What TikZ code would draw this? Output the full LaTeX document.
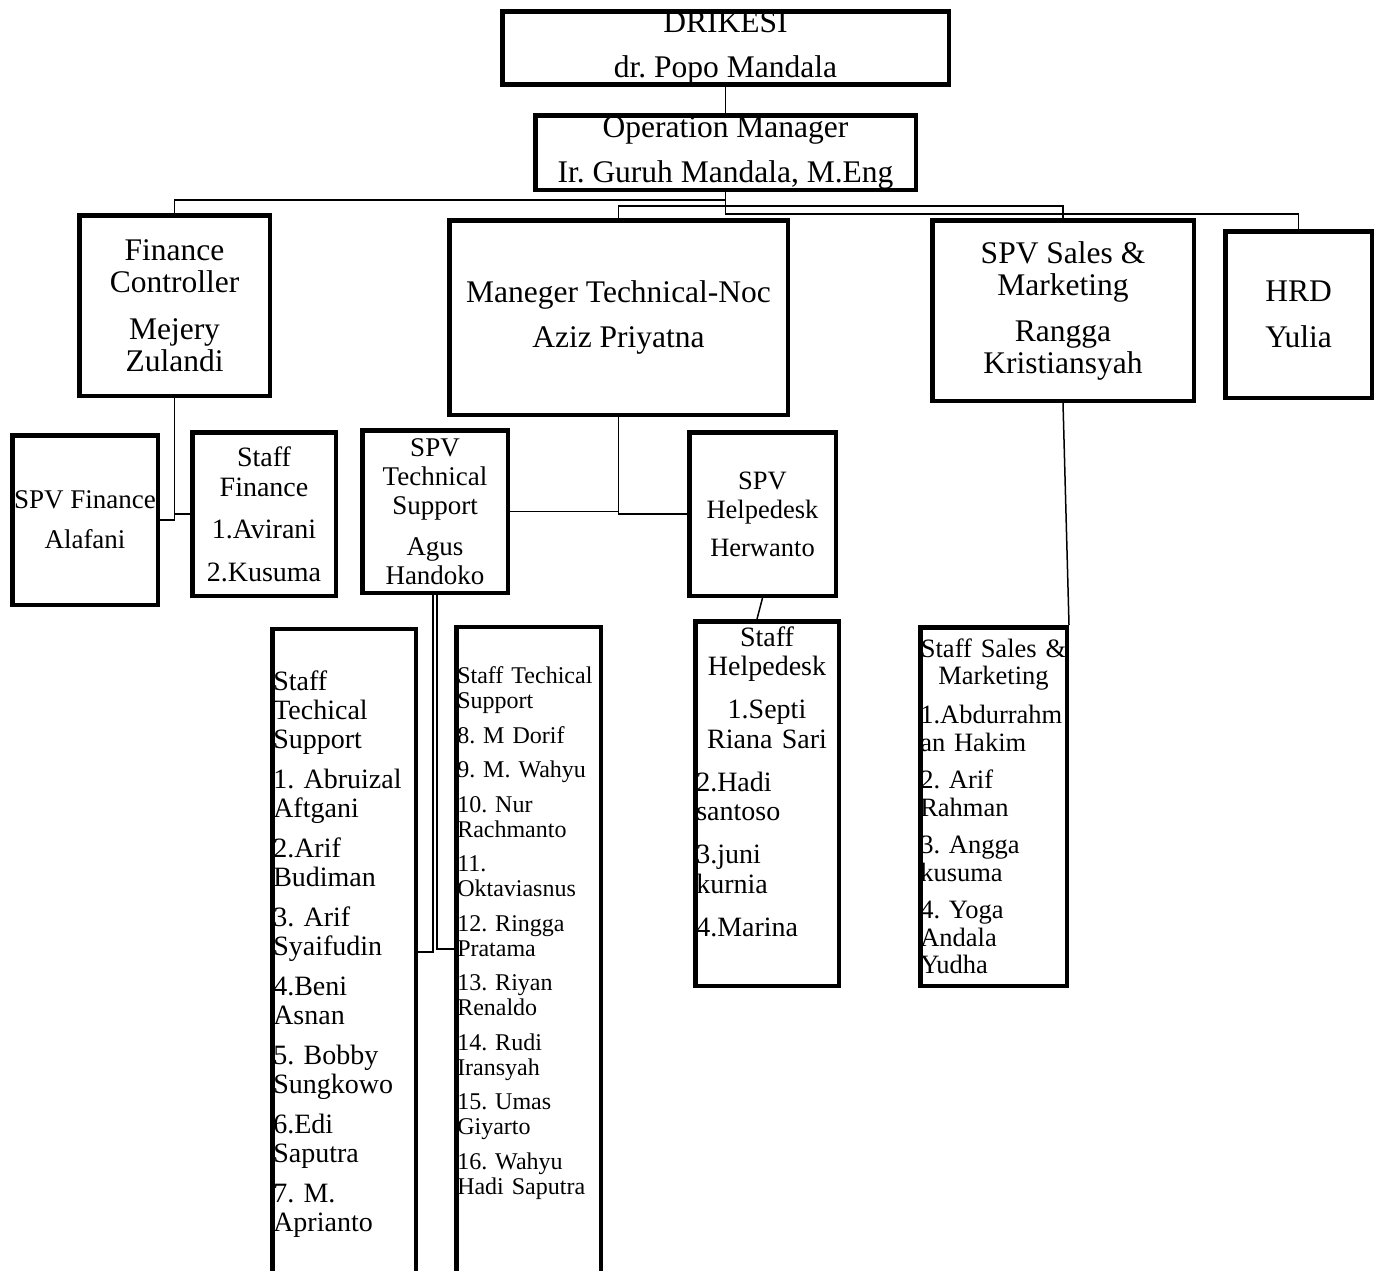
\documentclass[tikz,border=0pt]{standalone}
\usepackage{fontspec}
\setmainfont{Liberation Serif}
\frenchspacing
\begin{document}
\begin{tikzpicture}[x=1pt,y=-1pt,
  box/.style={draw, line width=4.5pt, inner sep=0pt, align=center},
  list/.style={draw, line width=4.5pt, inner ysep=0pt, inner xsep=1pt, align=left},
  link/.style={line width=1.5pt},
  big/.style={font=\fontsize{31.5}{32}\selectfont}]
  \useasboundingbox (0,0) rectangle (1381,1270);

  \node[box, big, minimum width=446.5pt, minimum height=71.5pt] (dir) at (725.5,48) {DRIKESI\\[13pt]dr. Popo Mandala};
  \node[box, big, minimum width=380.5pt, minimum height=74.5pt] (om) at (725.5,152.5) {Operation Manager\\[13pt]Ir. Guruh Mandala, M.Eng};

  \node[box, big, minimum width=190.5pt, minimum height=180.5pt] (fc) at (174.5,305.5) {Finance\\Controller\\[15pt]Mejery\\Zulandi};
  \node[box, big, minimum width=338.5pt, minimum height=194.5pt] (mt) at (618.5,317.5) {Maneger Technical-Noc\\[13pt]Aziz Priyatna};
  \node[box, big, minimum width=261.5pt, minimum height=180.5pt] (ss) at (1063,310.5) {SPV Sales \&\\Marketing\\[14pt]Rangga\\Kristiansyah};
  \node[box, big, minimum width=146.5pt, minimum height=166.5pt] (hrd) at (1298.5,314.5) {HRD\\[14pt]Yulia};

  \node[box, font=\fontsize{27}{28}\selectfont, minimum width=145.5pt, minimum height=169.5pt] (sf) at (85,520) {SPV Finance\\[12pt]Alafani};
  \node[box, font=\fontsize{28}{30}\selectfont, minimum width=143.5pt, minimum height=163.5pt] (stf) at (264,514) {Staff\\Finance\\[12pt]1.Avirani\\[13pt]2.Kusuma};
  \node[box, font=\fontsize{27}{29}\selectfont, minimum width=145.5pt, minimum height=162.5pt] (st) at (435,511.5) {SPV\\Technical\\Support\\[12pt]Agus\\Handoko};
  \node[box, font=\fontsize{26.5}{29}\selectfont, minimum width=146.5pt, minimum height=163.5pt] (sh) at (762.5,514) {SPV\\Helpedesk\\[9pt]Herwanto};

  \node[list, font=\fontsize{28}{29}\selectfont, text width=141.5pt, minimum height=700pt] (tsa) at (344,979)
    {Staff\\Techical\\Support\\[11pt]1. Abruizal\\Aftgani\\[11pt]2.Arif\\Budiman\\[11pt]3. Arif\\Syaifudin\\[11pt]4.Beni\\Asnan\\[11pt]5. Bobby\\Sungkowo\\[11pt]6.Edi\\Saputra\\[11pt]7. M.\\Aprianto\\[27pt]\mbox{}};
  \node[list, font=\fontsize{24}{25}\selectfont, text width=142.5pt, minimum height=700pt] (tsb) at (528.5,977)
    {Staff Techical\\Support\\[9.5pt]8. M Dorif\\[9.5pt]9. M. Wahyu\\[9.5pt]10. Nur\\Rachmanto\\[9.5pt]11.\\Oktaviasnus\\[9.5pt]12. Ringga\\Pratama\\[9.5pt]13. Riyan\\Renaldo\\[9.5pt]14. Rudi\\Iransyah\\[9.5pt]15. Umas\\Giyarto\\[9.5pt]16. Wahyu\\Hadi Saputra\\[68pt]\mbox{}};
  \node[list, font=\fontsize{28}{29.5}\selectfont, text width=141.5pt, minimum height=364.5pt] (sth) at (767,803.5)
    {{\centering Staff\\Helpedesk\\[13.5pt]1.Septi\\Riana Sari\par}\vspace{13.5pt}2.Hadi\\santoso\\[13.5pt]3.juni\\kurnia\\[13.5pt]4.Marina\\[14.5pt]\mbox{}};
  \node[list, inner xsep=0pt, font=\fontsize{26.5}{27.5}\selectfont, text width=146.5pt, minimum height=358.5pt] (sts) at (993.5,806.5)
    {{\centering \mbox{Staff Sales \&}\\Marketing\par}\vspace{11.5pt}1.Abdurrahm\\an Hakim\\[10pt]2. Arif\\Rahman\\[10pt]3. Angga\\kusuma\\[10pt]4. Yoga\\Andala\\Yudha};

  \coordinate (busA) at (0,200);
  \coordinate (busB) at (0,206);
  \coordinate (busC) at (0,214);
  \coordinate (tjl) at (0,952);
  \coordinate (tjr) at (0,949);

  \draw[link] (dir) -- (om);
  \draw[link] (om.south) -- (om.south |- busC) -| (hrd.north);
  \draw[link] (om.south |- busA) -| (fc.north);
  \draw[link] (om.south |- busB) -| (mt.north);
  \draw[link] (om.south |- busB) -| (ss.north);
  \draw[link] (fc.south) |- (sf.east);
  \draw[link] (fc.south) |- (stf.west);
  \draw[link] (mt.south) |- (st.east);
  \draw[link] (mt.south) |- (sh.west);
  \draw[link] ([xshift=-2pt]st.south) |- (tsa.east |- tjl);
  \draw[link] ([xshift=2pt]st.south) |- (tsb.west |- tjr);
  \draw[link] (sh.south) -- ([xshift=-10pt]sth.north);
  \draw[link] (ss.south) -- (sts.north east);
\end{tikzpicture}
\end{document}
